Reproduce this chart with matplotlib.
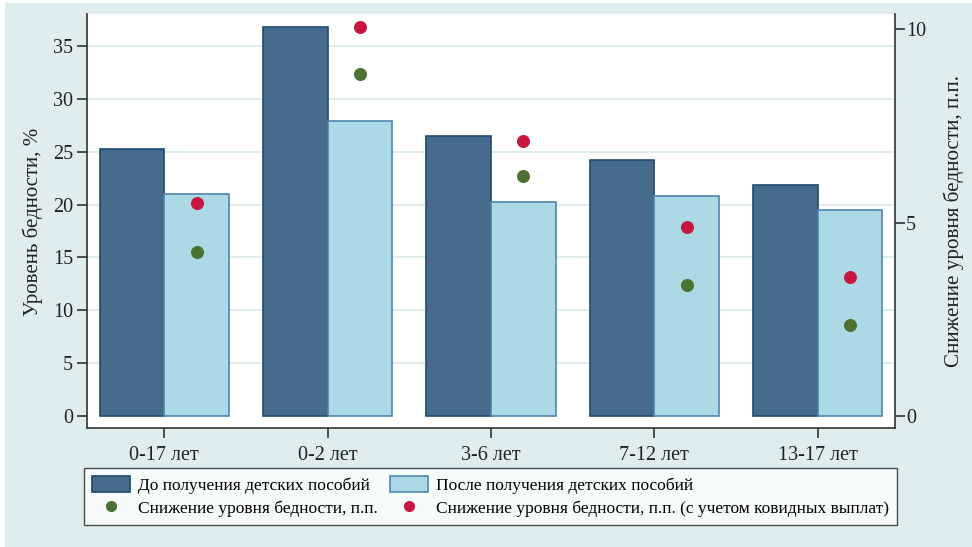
import matplotlib
matplotlib.use("Agg")
import matplotlib.pyplot as plt
import numpy as np
from matplotlib.patches import Patch, Rectangle
from matplotlib.lines import Line2D

categories = ["0-17 лет", "0-2 лет", "3-6 лет", "7-12 лет", "13-17 лет"]
before = [25.3, 36.8, 26.5, 24.2, 21.9]
after = [21.0, 27.9, 20.2, 20.8, 19.5]
reduction = [4.25, 8.85, 6.2, 3.4, 2.35]
reduction_covid = [5.5, 10.05, 7.1, 4.9, 3.6]

label_before = "До получения детских пособий"
label_after = "После получения детских пособий"
label_red = "Снижение уровня бедности, п.п."
label_red_covid = "Снижение уровня бедности, п.п. (с учетом ковидных выплат)"

plt.rcParams['font.family'] = ['Liberation Serif', 'DejaVu Serif']

BG = "#e0eded"
DARK = "#476b8a"
DARK_E = "#1f4a70"
LIGHT = "#add8e6"
LIGHT_E = "#4f86ad"
RED = "#c8173f"
GREEN = "#4b7232"
AXC = "#333333"
TXT = "#222222"

fig = plt.figure(figsize=(9.72, 5.47), dpi=100)
fig.patch.set_facecolor("white")
fig.patches.append(Rectangle((5/972, 0), 1 - 5/972, 1 - 3/547, transform=fig.transFigure,
                             facecolor=BG, edgecolor="none", zorder=-10))

ax = fig.add_axes([87/972, 1 - 428/547, (895 - 87)/972, (428 - 14)/547])
ax.set_facecolor("white")
x = np.arange(len(categories))
w = 0.396
ax.bar(x - w/2, before, width=w, color=DARK, edgecolor=DARK_E, linewidth=1.2, zorder=3)
ax.bar(x + w/2, after, width=w, color=LIGHT, edgecolor=LIGHT_E, linewidth=1.2, zorder=3)
ax.set_xlim(-0.473, 4.474)
ax.set_ylim(-1.135, 38.03)
ax.set_yticks([0, 5, 10, 15, 20, 25, 30, 35])
for yv in [5, 10, 15, 20, 25, 30, 35]:
    ax.axhline(yv, color=BG, linewidth=1.5, zorder=1)
ax.set_xticks(x)
ax.set_xticklabels(categories)
ax.tick_params(axis='x', length=7, width=1.2, color=AXC, pad=6, labelsize=14.5, labelcolor=TXT)
ax.tick_params(axis='y', length=7, width=1.2, color=AXC, pad=3, labelsize=14.5, labelcolor=TXT)
for s in ["top", "right"]:
    ax.spines[s].set_visible(False)
for s in ["left", "bottom"]:
    ax.spines[s].set_color(AXC)
    ax.spines[s].set_linewidth(1.2)
ax.set_ylabel("Уровень бедности, %", fontsize=15, color=TXT)
ax.yaxis.set_label_coords(-0.054, 0.4976)

ax2 = ax.twinx()
ax2.set_ylim(-0.310, 10.396)
ax2.set_yticks([0, 5, 10])
ax2.scatter(x + w/2, reduction, s=70, color=GREEN, zorder=5)
ax2.scatter(x + w/2, reduction_covid, s=70, color=RED, zorder=5)
ax2.tick_params(axis='y', length=7, width=1.2, color=AXC, pad=1, labelsize=14.5, labelcolor=TXT)
for s in ["top", "left", "bottom"]:
    ax2.spines[s].set_visible(False)
ax2.spines["right"].set_color(AXC)
ax2.spines["right"].set_linewidth(1.2)
ax2.set_ylabel("Снижение уровня бедности, п.п.", fontsize=15.2, color=TXT)
ax2.yaxis.set_label_coords(1.0606, 0.499)

handles = [
    Patch(facecolor=DARK, edgecolor=DARK_E, linewidth=1.2),
    Line2D([], [], marker='o', linestyle='none', color=GREEN, markersize=7),
    Patch(facecolor=LIGHT, edgecolor=LIGHT_E, linewidth=1.2),
    Line2D([], [], marker='o', linestyle='none', color=RED, markersize=7),
]
labels = [label_before, label_red, label_after, label_red_covid]
leg = fig.legend(handles, labels, ncol=2, loc='center',
                 bbox_to_anchor=(84/972, 1 - 524/547, (897 - 84)/972, (524 - 469)/547),
                 mode='expand', fontsize=12.5, frameon=True, fancybox=False,
                 handlelength=2.2, handleheight=1.1, labelspacing=0.3, borderpad=0.45,
                 handletextpad=0.45, borderaxespad=0)
leg.get_frame().set_edgecolor(TXT)
leg.get_frame().set_linewidth(1.0)
leg.get_frame().set_facecolor("white")

fig.savefig("out.png", dpi=100, facecolor=fig.get_facecolor())
